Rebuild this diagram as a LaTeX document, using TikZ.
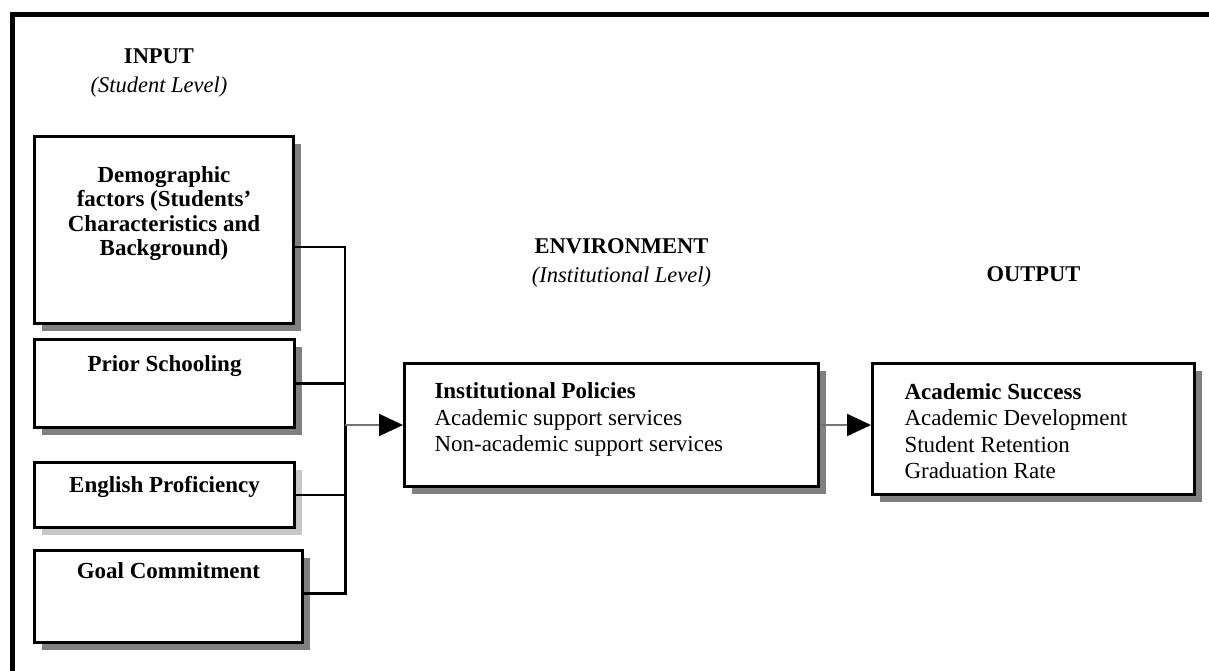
\documentclass[tikz,border=0pt]{standalone}
\usepackage{fontspec}
\setmainfont{Liberation Serif}
\usetikzlibrary{arrows.meta,positioning,calc,shadows}
\tikzset{%
  % boxes
  panel/.style={draw, line width=3pt, fill=white, inner sep=0pt,
    drop shadow={shadow xshift=7pt, shadow yshift=-7pt, fill=#1, opacity=1}},
  factor/.style={panel=black!50},
  softfactor/.style={panel=black!22},
  policy/.style={panel=black!50},
  heading/.style={align=center, inner sep=0pt, font=\fontsize{22.5}{29}\selectfont\bfseries},
  % lines
  frame/.style={line width=5pt},
  link/.style={line width=2.5pt},
  flow/.style={line width=2pt, draw=black!55, -{Triangle[length=24pt, width=22pt, color=black]}},
}
\newcommand{\factortext}{\fontsize{23}{24.5}\selectfont\bfseries\centering}
\newcommand{\policytext}{\fontsize{23}{26.5}\selectfont\raggedright\leftskip=30pt}
\newcommand{\subhead}[1]{{\mdseries\itshape #1}}
\newcommand{\boxnode}[7][]{%
  % #1 = extra TikZ options
  % #2 = class (factor | softfactor | policy)
  % #3 = node name
  % #4 = width, #5 = height, #6 = gap above the text
  % #7 = content
  \node[#2, #1] (#3) {\parbox[c][#5][t]{#4}{\vspace*{#6}#7}};
}

\begin{document}
\begin{tikzpicture}[x=1pt, y=-1pt, node distance=12pt]
  \useasboundingbox (0,0) rectangle (1209,670);
  % outer frame
  \draw[frame] (12,673) -- (12,14) -- (1212,14);

  % Input (student level)
  \boxnode[at={(33,135)}, anchor=north west]{factor}{demo}{259pt}{187pt}{30pt}{\factortext Demographic\\ factors (Students'\\ Characteristics and\\ Background)};
  \boxnode[below=13pt of demo.south west, anchor=north west]{factor}{prior}{260pt}{88pt}{16pt}{\factortext Prior Schooling};
  \boxnode[below=32pt of prior.south west, anchor=north west]{softfactor}{english}{260pt}{65pt}{14pt}{\factortext English Proficiency};
  \boxnode[below=20pt of english.south west, anchor=north west]{factor}{goal}{268pt}{92pt}{12pt}{\factortext Goal Commitment};

  % Environment and output
  \boxnode[at={(403,362)}, anchor=north west]{policy}{inst}{414pt}{123pt}{19.5pt}{\policytext \textbf{Institutional Policies}\\ Academic support services\\ Non-academic support services};
  \boxnode[right=51pt of inst.north east, anchor=north west]{policy}{outcome}{322pt}{131pt}{20pt}{\policytext\leftskip=32pt \textbf{Academic Success}\\ Academic Development\\ Student Retention\\ Graduation Rate};

  % Headings
  \node[heading, above=38pt of demo, xshift=-5pt] (input) {INPUT\\ \subhead{(Student Level)}};
  \node[heading, above=75pt of inst, xshift=10pt] (environment) {ENVIRONMENT\\ \subhead{(Institutional Level)}};
  \node[heading, above=80pt of outcome] (output) {OUTPUT};

  % Connectors
  \coordinate (j) at ($(inst.west)+(-58pt,0)$);
  \draw[link, line width=2pt] ([yshift=-16.5pt]demo.east) -| (j);
  \draw[link, line width=3.5pt] (prior.east) -- (prior.east -| j);
  \draw[link] (english.east) -- (english.east -| j);
  \draw[link, line width=3pt] ([yshift=3pt]goal.east) -| (j);
  \draw[flow] (j) -- (inst.west);
  \draw[flow] (inst.east) -- (inst.east -| outcome.west);
\end{tikzpicture}
\end{document}
